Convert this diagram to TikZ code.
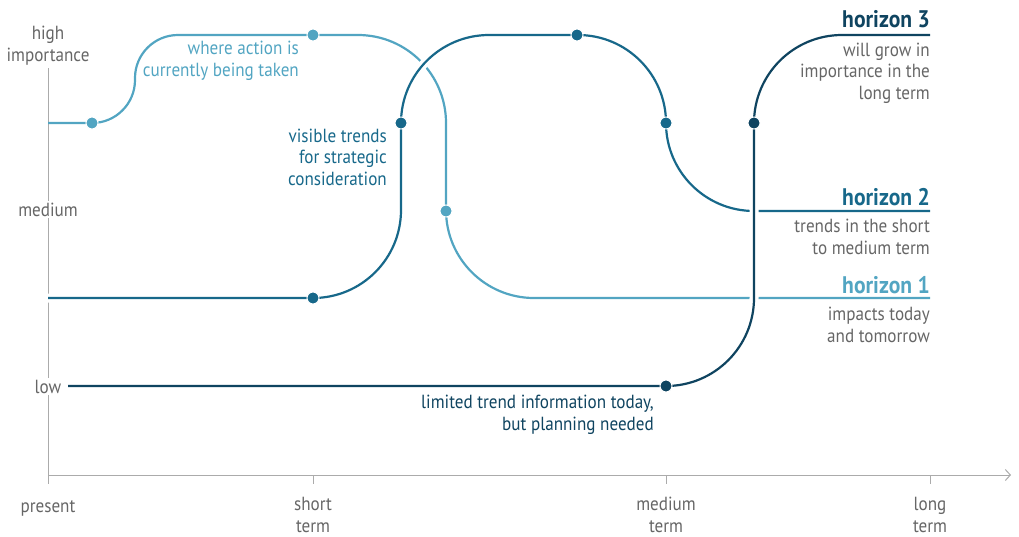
\documentclass[tikz,border=0pt]{standalone}
\usepackage{fontspec}
\setmainfont[FakeStretch=0.9]{PT Sans}
\usetikzlibrary{positioning, arrows.meta}
\definecolor{hlight}{HTML}{52A5C2}
\definecolor{hmid}{HTML}{17688A}
\definecolor{hdark}{HTML}{0F4460}
\definecolor{axisgray}{HTML}{ABABAB}
\definecolor{textgray}{HTML}{666666}
\tikzset{
  x=1pt, y=-1pt,
  axis/.style={
      draw=axisgray,
      line width=1pt
    },
  lbl/.style={
      font=\fontsize{19}{21.5}\selectfont,
      text=textgray,
      align=center,
      anchor=base,
      inner sep=0pt
    },
  note/.style={
      font=\fontsize{19}{21.5}\selectfont,
      align=right,
      anchor=base east,
      inner sep=0pt
    },
  title/.style={
      font=\fontsize{24}{25}\selectfont\bfseries,
      anchor=base east,
      inner sep=0pt
    },
  hor/.style={
      line width=2.2pt,
      rounded corners=88pt
    },
  over/.style={
      preaction={draw=white, line width=9pt}
    },
  dot/.style={
      circle,
      fill=#1,
      draw=white,
      line width=1pt,
      minimum size=12pt,
      inner sep=0pt
    }
}
\begin{document}
\begin{tikzpicture}
  \useasboundingbox (0,0) rectangle (1019,536);
  % axes
  \draw[axis] (48,68) -- (48,475);
  \draw[axis, -{Straight Barb[length=5pt, width=11pt]}] (48,475) -- (1011,475);
  \foreach \tx in {48,313,666,930}
    \draw[axis] (\tx,475) -- (\tx,484);
  \node[lbl] (yhigh) at (48,61) {high\\importance};
  \node[lbl, fill=white, inner sep=2pt] (ymed) at (48,216) {medium};
  \node[lbl, fill=white, inner sep=2pt] (ylow) at (48,393) {low};
  \node[lbl] (xnow) at (48,512) {present};
  \node[lbl] (xshort) at (313,532) {short\\term};
  \node[lbl] (xmed) at (666,532) {medium\\term};
  \node[lbl] (xlong) at (930,532) {long\\term};
  % start and end points
  \coordinate (h1s) at (48,123);
  \coordinate (h1e) at (930,298);
  \coordinate (h2s) at (48,298);
  \coordinate (h2e) at (930,211);
  \coordinate (h3s) at (68,386);
  \coordinate (h3e) at (930,35);
  % horizon 1
  \draw[hor, hlight, rounded corners=43pt] (h1s) -- (135,123) -- (135,35) -- (313,35)
    [rounded corners=88pt] -- (446,35) -- (446,298) -- (h1e);
  \node[dot=hlight] (d11) at (92,123) {};
  \node[dot=hlight] (d12) at (313,35) {};
  \node[dot=hlight] (d13) at (446,211) {};
  % horizon 2
  \draw[hor, hmid, over] (h2s) -- (401,298) -- (401,35) -- (666,35) -- (666,211) -- (h2e);
  \node[dot=hmid] (d21) at (313,298) {};
  \node[dot=hmid] (d22) at (401,123) {};
  \node[dot=hmid] (d23) at (577,35) {};
  \node[dot=hmid] (d24) at (666,123) {};
  % horizon 3
  \draw[hor, hdark, over] (h3s) -- (754,386) -- (754,35) -- (h3e);
  \node[dot=hdark] (d31) at (666,386) {};
  \node[dot=hdark] (d32) at (754,123) {};
  % labels
  \node[note, text=hlight] (n1) at (299,76) {where action is\\currently being taken};
  \node[note, text=hmid] (n2) at (387,185) {visible trends\\for strategic\\consideration};
  \node[note, text=hdark] (n3) at (654,430) {limited trend information today,\\but planning needed};
  \node[title, text=hdark] (t3) at (930,27) {horizon 3};
  \node[note, text=textgray] (s3) at (930,99) {will grow in\\importance in the\\long term};
  \node[title, text=hmid] (t2) at (930,205) {horizon 2};
  \node[note, text=textgray] (s2) at (930,254) {trends in the short\\to medium term};
  \node[title, text=hlight] (t1) at (930,293) {horizon 1};
  \node[note, text=textgray] (s1) at (930,342) {impacts today\\and tomorrow};
\end{tikzpicture}
\end{document}
